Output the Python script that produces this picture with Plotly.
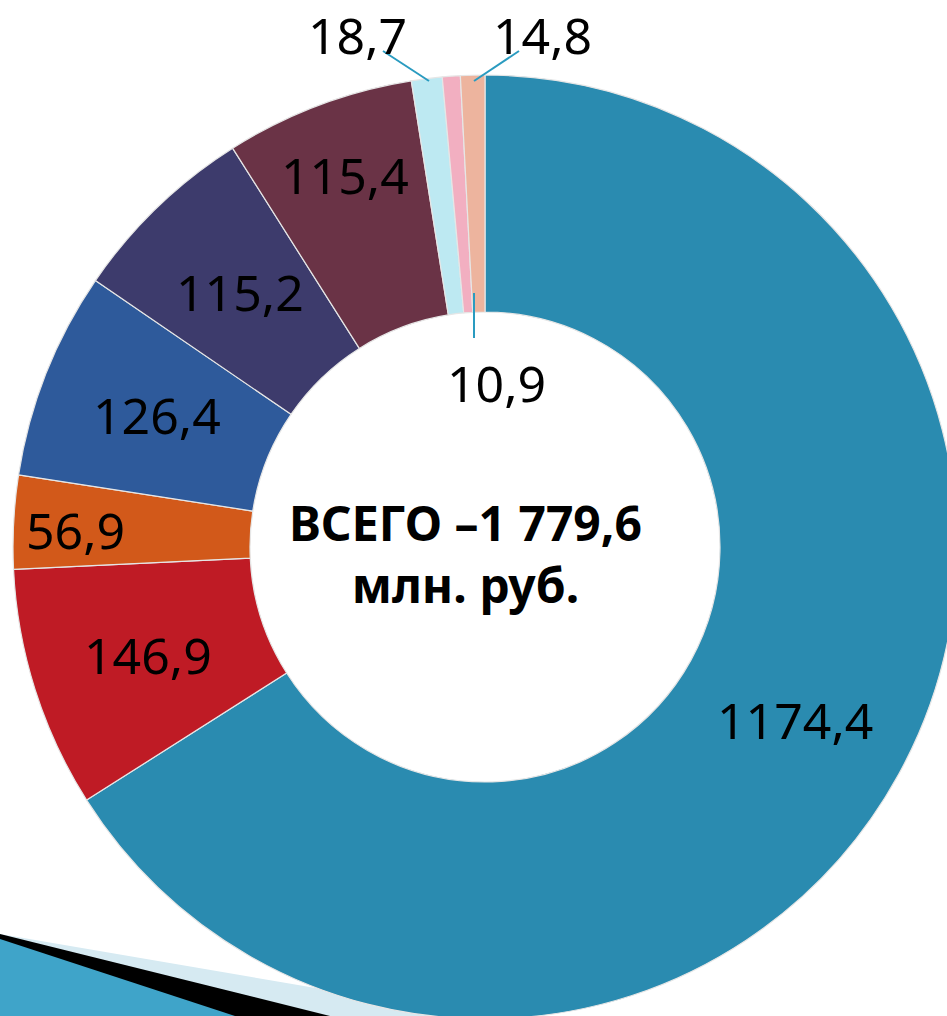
import plotly.graph_objects as go

# ---- data ----
values = [1174.4, 146.9, 56.9, 126.4, 115.2, 115.4, 18.7, 10.9, 14.8]
labels_txt = ["1174,4", "146,9", "56,9", "126,4", "115,2", "115,4", "18,7", "10,9", "14,8"]
colors = ["#2A8BB0", "#BF1B25", "#D2591A", "#2E5A9B", "#3D3B6C", "#6A3346",
          "#BDE9F2", "#F2AFC1", "#EDB49E"]
center_text = "ВСЕГО –1 779,6<br>млн. руб."

# ---- layout geometry (pixels) ----
W, H = 970, 1040
CX, CY, R, RH = 485, 547, 472, 235

def px(x):
    return x / W

def py(y):
    return 1 - y / H

# label anchor positions (pixels)
label_pos = [(795, 720), (148, 655), (75, 530), (157, 415), (240, 292),
             (345, 175), (357, 35), (497, 383), (542, 35)]
leaders = [((383, 51), (429, 81)), ((519, 51), (474, 81)), ((474, 293), (474, 338))]

fig = go.Figure()
fig.add_trace(go.Pie(
    values=values,
    labels=labels_txt,
    marker=dict(colors=colors, line=dict(color="#E6E6E6", width=1.2)),
    hole=RH / R,
    sort=False,
    direction="clockwise",
    rotation=0,
    textinfo="none",
    hoverinfo="label+value",
    showlegend=False,
    domain=dict(x=[px(CX - R), px(CX + R)], y=[py(CY + R), py(CY - R)]),
))

annotations = []
for t, (x, y) in zip(labels_txt, label_pos):
    annotations.append(dict(
        x=px(x), y=py(y), xref="paper", yref="paper", text=t, showarrow=False,
        xanchor="center", yanchor="middle",
        font=dict(family="Noto Sans", size=50, color="#000000"),
    ))
annotations.append(dict(
    x=px(465), y=py(553), xref="paper", yref="paper", text=center_text,
    showarrow=False, xanchor="center", yanchor="middle",
    font=dict(family="Noto Sans", size=48, color="#000000", weight="bold"),
))

shapes = []
# decorative bottom-left corner
shapes.append(dict(type="path", xref="paper", yref="paper", layer="below",
                   path=f"M {px(0)} {py(934)} L {px(480)} {py(1016)} L {px(0)} {py(1016)} Z",
                   fillcolor="#D6EAF2", line=dict(width=0)))
shapes.append(dict(type="path", xref="paper", yref="paper", layer="below",
                   path=f"M {px(0)} {py(934)} L {px(330)} {py(1016)} L {px(0)} {py(1016)} Z",
                   fillcolor="#000000", line=dict(width=0)))
shapes.append(dict(type="path", xref="paper", yref="paper", layer="below",
                   path=f"M {px(0)} {py(939)} L {px(235)} {py(1016)} L {px(0)} {py(1016)} Z",
                   fillcolor="#3FA4C9", line=dict(width=0)))
for (x0, y0), (x1, y1) in leaders:
    shapes.append(dict(type="line", xref="paper", yref="paper",
                       x0=px(x0), y0=py(y0), x1=px(x1), y1=py(y1),
                       line=dict(color="#2A9BC0", width=2)))

fig.update_layout(
    width=W, height=H,
    margin=dict(l=0, r=0, t=0, b=0),
    paper_bgcolor="white", plot_bgcolor="white",
    annotations=annotations, shapes=shapes,
    showlegend=False,
)

fig.write_html(
    "out.html",
    config={"displayModeBar": False},
    post_script="document.body.style.margin='0';document.body.style.overflow='hidden';document.documentElement.style.overflow='hidden';",
)
